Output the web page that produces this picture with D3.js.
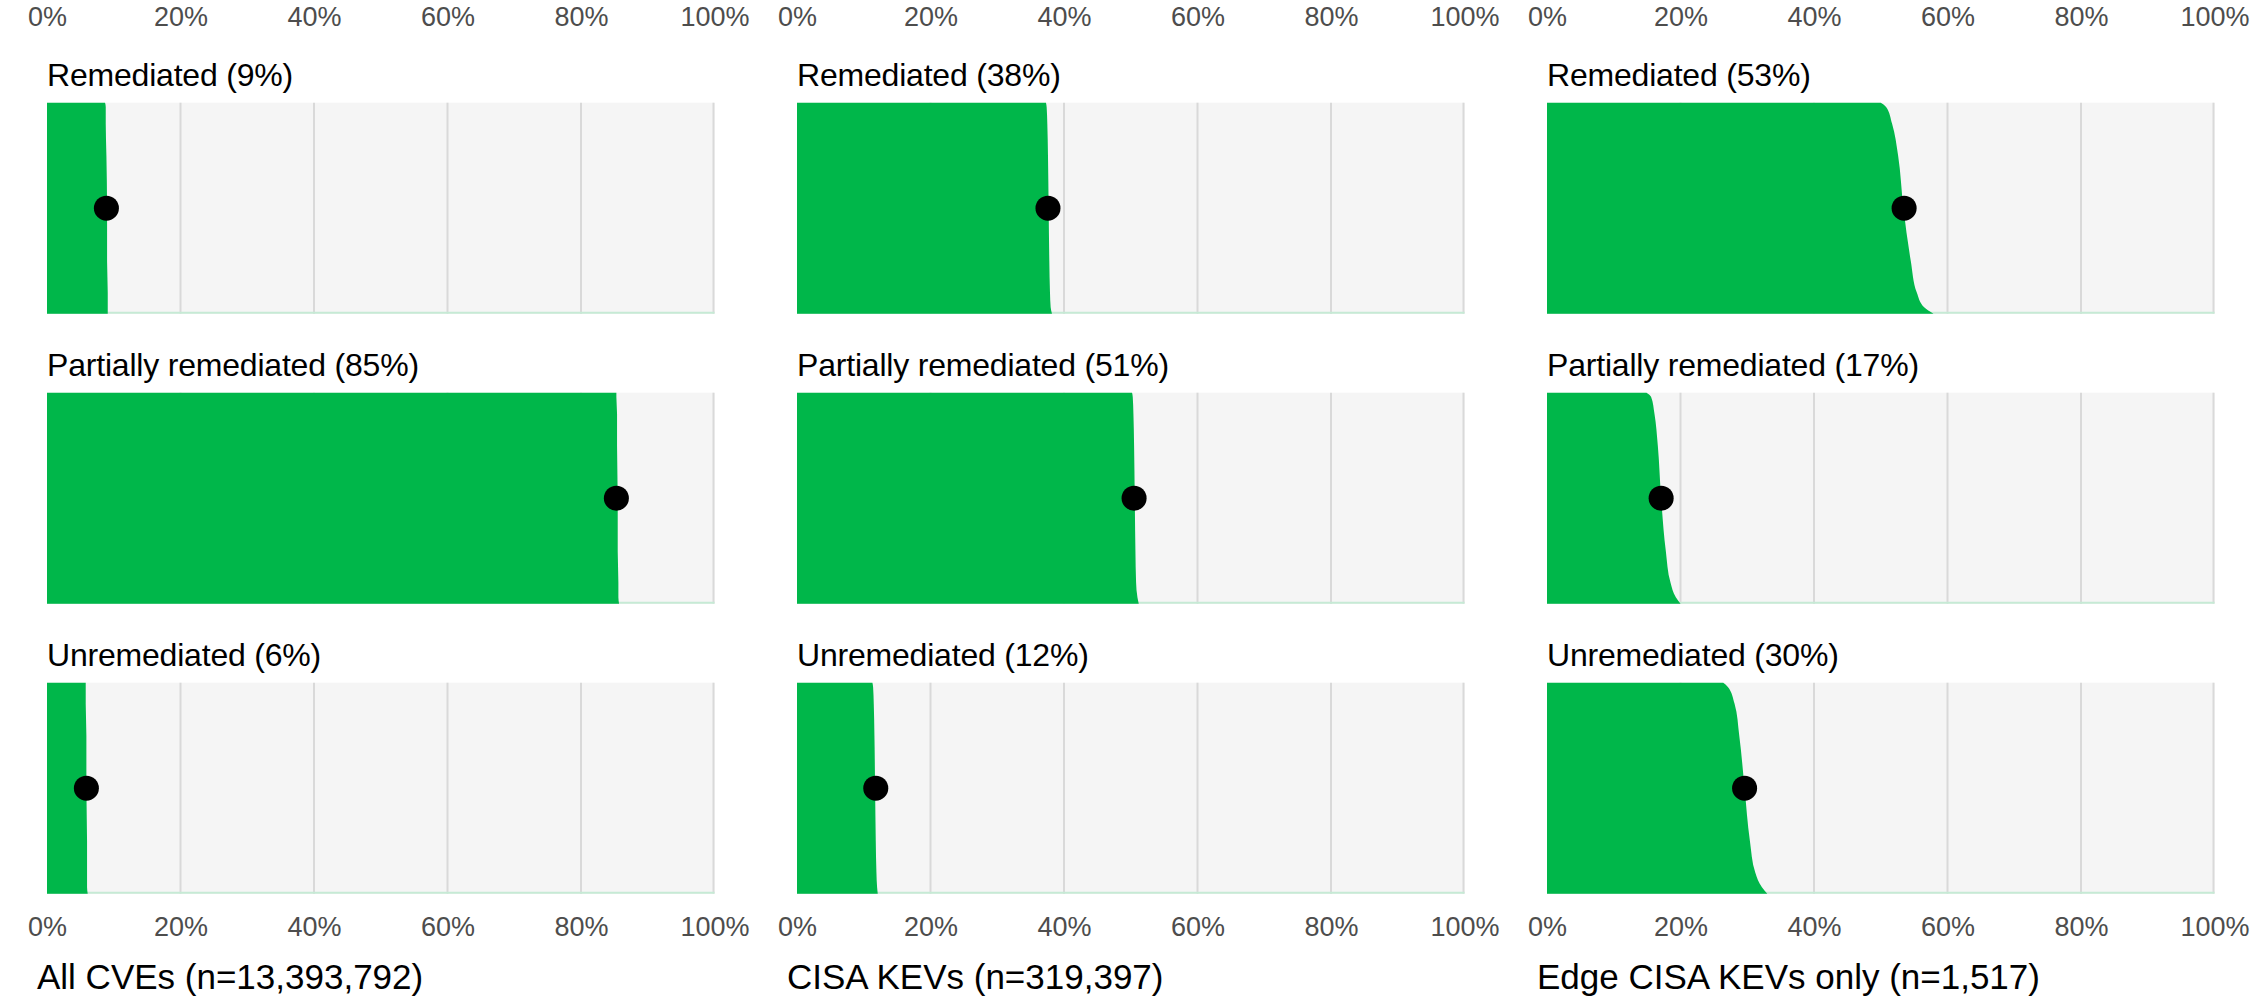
<!DOCTYPE html>
<html>
<head>
<meta charset="utf-8">
<script src="https://cdn.jsdelivr.net/npm/d3@7"></script>
<style>
  body { margin: 0; background: #fff; }
  text { font-family: "Liberation Sans", Arial, sans-serif; }
  .tick text { fill: #4d4d4d; font-size: 27px; }
  .rowLabel { font-size: 32px; fill: #000; letter-spacing: -0.2px; }
  .panelTitle { font-size: 35px; fill: #000; }
</style>
</head>
<body>
<div class="chart"></div>
<script>
// Data
let panelTitles = ["All CVEs (n=13,393,792)", "CISA KEVs (n=319,397)", "Edge CISA KEVs only (n=1,517)"];
let statuses = ["Remediated", "Partially remediated", "Unremediated"];
let labelPcts = [[9, 85, 6], [38, 51, 12], [53, 17, 30]];
let pointValues = [[8.9, 85.3, 5.9], [37.6, 50.5, 11.8], [53.5, 17.1, 29.6]];
let xTicks = [0, 20, 40, 60, 80, 100];

// edge of the green shape, read top -> bottom at these fractions of the row height
let edgeFractions = [0, 0.02, 0.1, 0.25, 0.5, 0.75, 0.9, 0.97, 1];
let edgesAllCves = [
  [8.7, 8.8, 8.8, 8.9, 9.0, 9.0, 9.1, 9.1, 9.1],
  [85.3, 85.3, 85.4, 85.4, 85.5, 85.5, 85.6, 85.6, 85.7],
  [5.8, 5.8, 5.8, 5.9, 5.9, 6.0, 6.0, 6.0, 6.1]
];
let edgesKevs = [
  [37.3, 37.4, 37.5, 37.6, 37.7, 37.8, 37.9, 38.0, 38.2],
  [50.2, 50.3, 50.4, 50.5, 50.6, 50.7, 50.8, 51.0, 51.2],
  [11.3, 11.4, 11.5, 11.6, 11.7, 11.8, 11.9, 12.0, 12.1]
];
let edgesEdgeKevs = [
  [50.0, 50.8, 51.7, 52.6, 53.4, 54.5, 55.4, 56.5, 57.9],
  [14.9, 15.6, 16.1, 16.6, 17.1, 17.8, 18.5, 19.3, 20.0],
  [26.4, 27.1, 28.1, 28.8, 29.6, 30.4, 31.2, 32.2, 33.0]
];
let panelEdges = [edgesAllCves, edgesKevs, edgesEdgeKevs];

// Set up chart
let svgWidth = 2250;
let svgHeight = 1002;
let panelLeft = 47;
let panelStep = 750;
let panelWidth = 667.5;
let green = "#00b74a";

let svg = d3.select(".chart")
  .append("svg")
  .attr("width", svgWidth)
  .attr("height", svgHeight)
  .style("display", "block");

svg.append("rect")
  .attr("width", svgWidth)
  .attr("height", svgHeight)
  .attr("fill", "#fff");

// shared scales
let xScale = d3.scaleLinear().domain([0, 100]).range([0, panelWidth]);
let rowScale = d3.scaleBand()
  .domain(statuses)
  .range([102.7, 893.7])
  .paddingInner(0.2724)
  .paddingOuter(0);

panelTitles.forEach(function(title, p) {
  let panel = svg.append("g")
    .attr("transform", `translate(${panelLeft + p * panelStep}, 0)`);

  // top axis
  let topAxis = d3.axisTop(xScale)
    .tickValues(xTicks)
    .tickFormat(d => d + "%")
    .tickSize(0)
    .tickPadding(0);
  panel.append("g")
    .attr("transform", "translate(0, 26)")
    .call(topAxis)
    .call(g => g.select(".domain").remove());

  statuses.forEach(function(status, r) {
    let top = rowScale(status);
    let bw = rowScale.bandwidth();
    let tScale = d3.scaleLinear().domain([0, 1]).range([top, top + bw]);
    let row = panel.append("g");

    // row label
    row.append("text")
      .attr("class", "rowLabel")
      .attr("x", 0)
      .attr("y", top - 17)
      .text(`${status} (${labelPcts[p][r]}%)`);

    // background
    row.append("rect")
      .attr("x", 0)
      .attr("y", top)
      .attr("width", panelWidth)
      .attr("height", bw)
      .attr("fill", "#f5f5f5");

    // gridlines
    row.selectAll("line.grid")
      .data(xTicks.filter(d => d > 0))
      .enter().append("line")
      .attr("class", "grid")
      .attr("x1", d => Math.min(xScale(d), panelWidth - 1))
      .attr("x2", d => Math.min(xScale(d), panelWidth - 1))
      .attr("y1", top)
      .attr("y2", top + bw)
      .attr("stroke", "#d9d9d9")
      .attr("stroke-width", 2);

    // baseline
    row.append("line")
      .attr("x1", 0)
      .attr("x2", panelWidth)
      .attr("y1", top + bw - 1)
      .attr("y2", top + bw - 1)
      .attr("stroke", "#c6ead5")
      .attr("stroke-width", 2);

    // green shape
    let edge = edgeFractions.map((f, i) => ({ t: f, v: panelEdges[p][r][i] }));
    let area = d3.area()
      .y(d => tScale(d.t))
      .x0(0)
      .x1(d => xScale(d.v))
      .curve(d3.curveMonotoneY);
    row.append("path")
      .datum(edge)
      .attr("d", area)
      .attr("fill", green);

    // point estimate
    row.append("circle")
      .attr("cx", xScale(pointValues[p][r]))
      .attr("cy", top + bw / 2)
      .attr("r", 12.5)
      .attr("fill", "#000");
  });

  // bottom axis
  let bottomAxis = d3.axisBottom(xScale)
    .tickValues(xTicks)
    .tickFormat(d => d + "%")
    .tickSize(0)
    .tickPadding(0);
  panel.append("g")
    .attr("transform", "translate(0, 916.5)")
    .call(bottomAxis)
    .call(g => g.select(".domain").remove());

  // panel title
  panel.append("text")
    .attr("class", "panelTitle")
    .attr("x", -10)
    .attr("y", 989)
    .text(title);
});
</script>
</body>
</html>
